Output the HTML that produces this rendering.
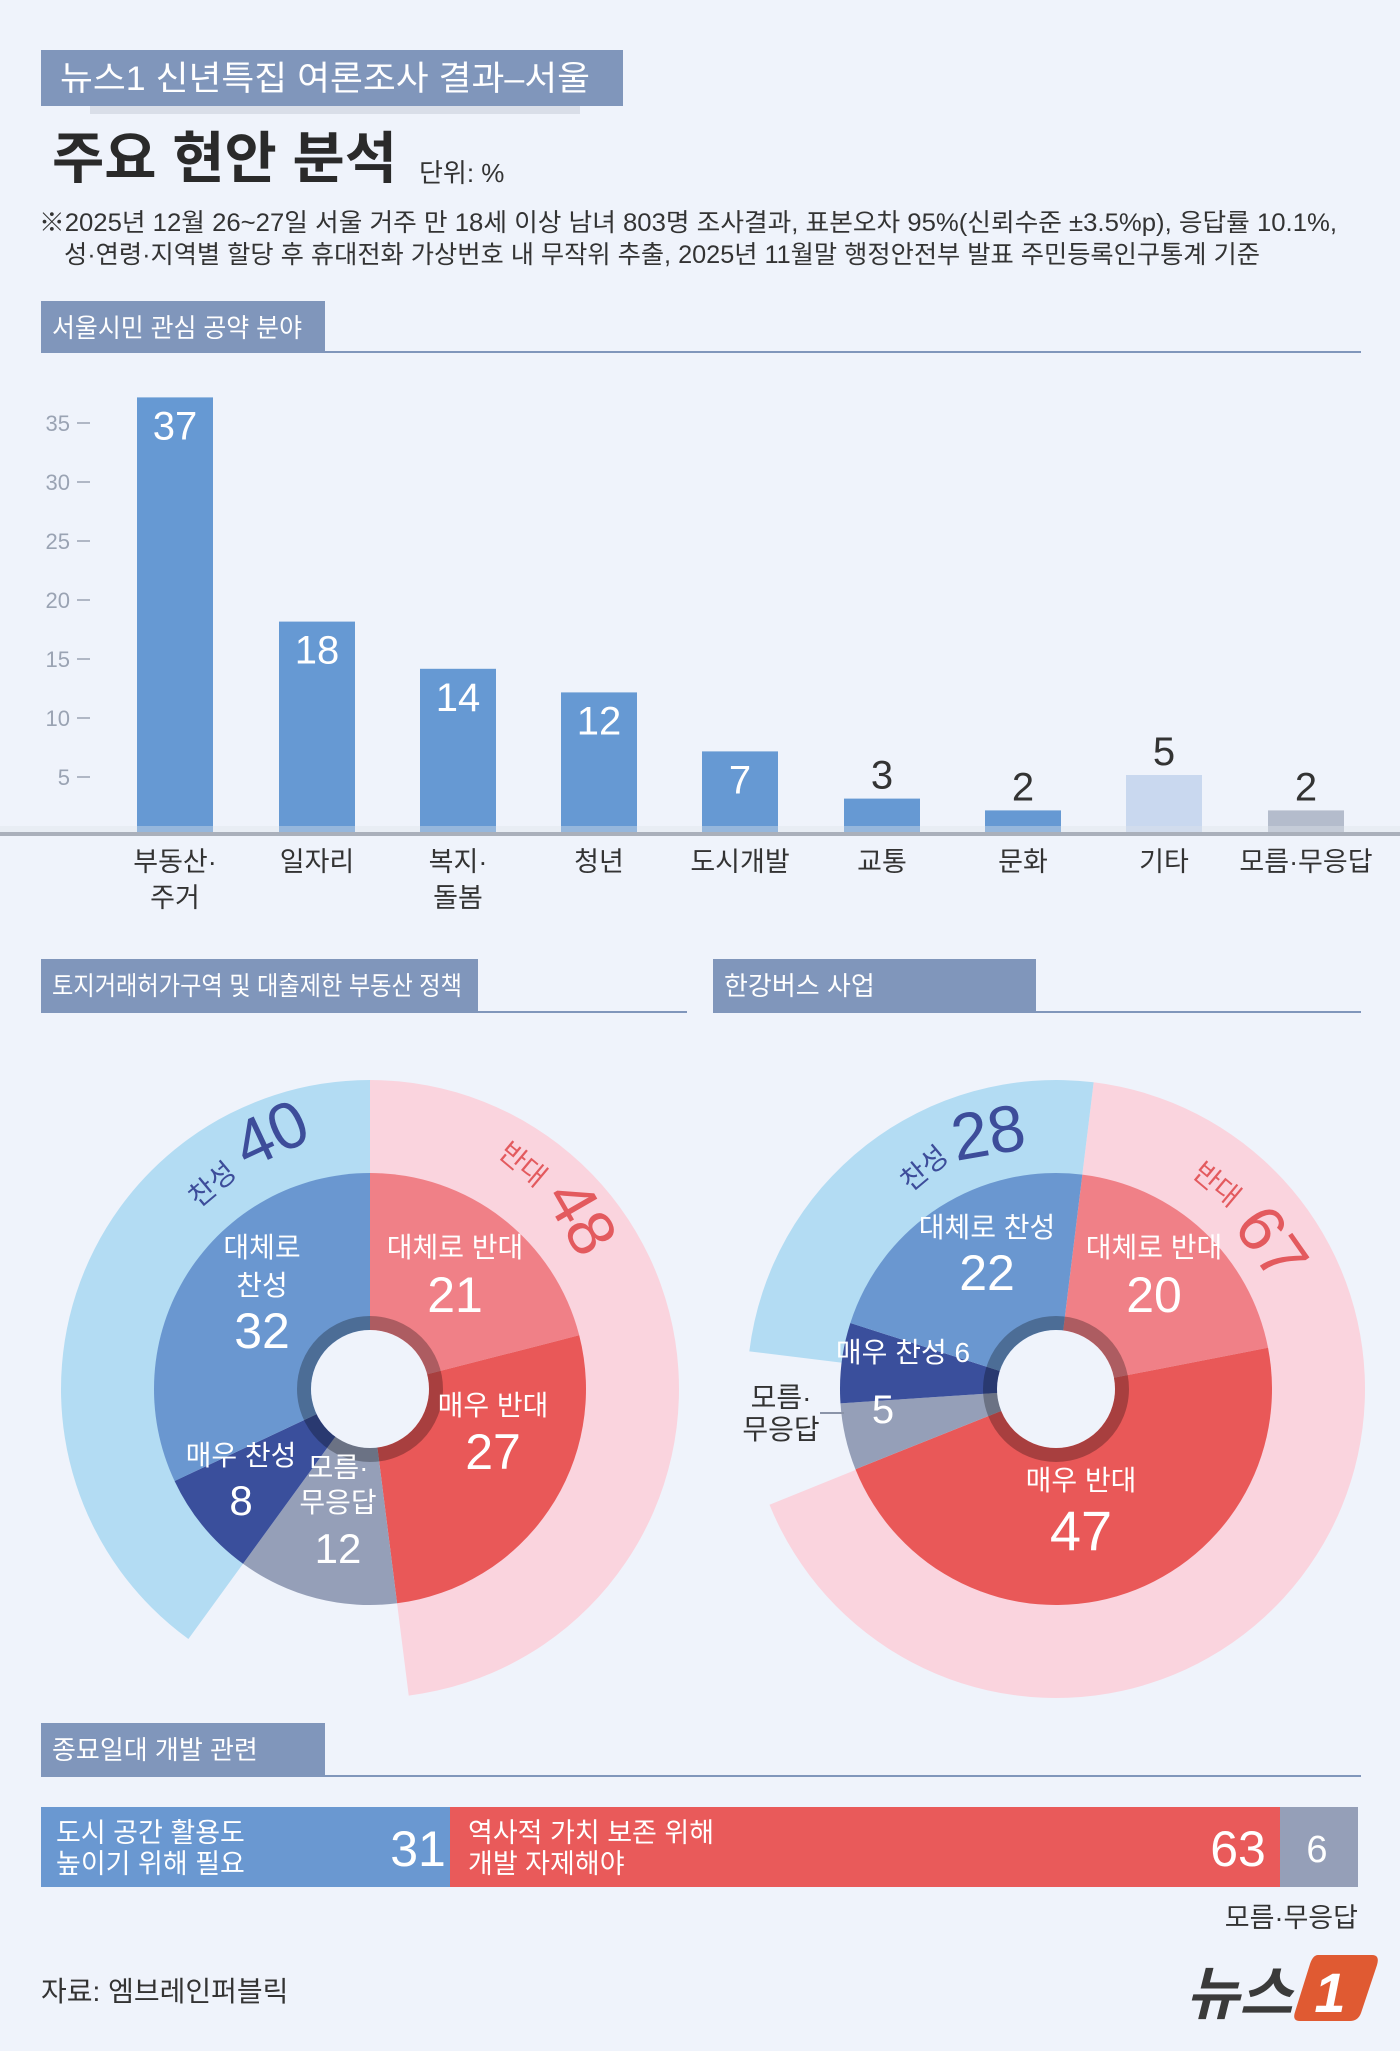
<!DOCTYPE html>
<html><head><meta charset="utf-8">
<style>
html,body{margin:0;padding:0;background:#eff3fb;}
svg{display:block;}
text{font-family:"Liberation Sans","Noto Sans CJK KR",sans-serif;}
</style></head>
<body>
<svg id="s" width="1400" height="2051" viewBox="0 0 1400 2051" xmlns="http://www.w3.org/2000/svg">
<rect width="1400" height="2051" fill="#eff3fb"/>
<rect x="41" y="50" width="582" height="56" fill="#8096bb"/>
<rect x="90" y="106" width="490" height="8" fill="#d9dee8"/>
<text x="60" y="90" font-size="34" fill="#fff" textLength="530" lengthAdjust="spacingAndGlyphs">뉴스1 신년특집 여론조사 결과–서울</text>
<text x="52" y="178" font-size="56" font-weight="bold" fill="#2a2a2a" textLength="345" lengthAdjust="spacingAndGlyphs">주요 현안 분석</text>
<text x="419" y="182" font-size="26" fill="#333">단위: %</text>
<text x="39" y="231" font-size="25" fill="#333" textLength="1298" lengthAdjust="spacingAndGlyphs">※2025년 12월 26~27일 서울 거주 만 18세 이상 남녀 803명 조사결과, 표본오차 95%(신뢰수준 ±3.5%p), 응답률 10.1%,</text>
<text x="64" y="263" font-size="25" fill="#333" textLength="1196" lengthAdjust="spacingAndGlyphs">성·연령·지역별 할당 후 휴대전화 가상번호 내 무작위 추출,  2025년 11월말 행정안전부 발표 주민등록인구통계 기준</text>

<rect x="41" y="301" width="284" height="52" fill="#8096bb"/>
<rect x="325" y="351" width="1036" height="2" fill="#8096bb"/>
<text x="52" y="337" font-size="26" fill="#fff" textLength="250" lengthAdjust="spacingAndGlyphs">서울시민 관심 공약 분야</text>
<g font-size="22" fill="#9aa3b3" text-anchor="end">
<text x="70" y="431">35</text><text x="70" y="490">30</text><text x="70" y="549">25</text><text x="70" y="608">20</text><text x="70" y="667">15</text><text x="70" y="726">10</text><text x="70" y="785">5</text>
</g>
<g stroke="#9aa3b3" stroke-width="1.5">
<line x1="77" y1="423" x2="90" y2="423"/><line x1="77" y1="482" x2="90" y2="482"/><line x1="77" y1="541" x2="90" y2="541"/><line x1="77" y1="600" x2="90" y2="600"/><line x1="77" y1="659" x2="90" y2="659"/><line x1="77" y1="718" x2="90" y2="718"/><line x1="77" y1="777" x2="90" y2="777"/>
</g>
<g id="bars"></g>
<rect x="0" y="832" width="1400" height="4" fill="#aab0bb"/>
<rect x="0" y="826" width="1400" height="6" fill="#dfe3ea" opacity="0.4"/>
<g font-size="27" fill="#333" text-anchor="middle">
<text x="175" y="871">부동산·</text><text x="175" y="907">주거</text>
<text x="317" y="871">일자리</text>
<text x="458" y="871">복지·</text><text x="458" y="907">돌봄</text>
<text x="599" y="871">청년</text>
<text x="740" y="871">도시개발</text>
<text x="882" y="871">교통</text>
<text x="1023" y="871">문화</text>
<text x="1164" y="871">기타</text>
<text x="1306" y="871">모름·무응답</text>
</g>

<rect x="41" y="959" width="437" height="54" fill="#8096bb"/>
<rect x="478" y="1011" width="209" height="2" fill="#8096bb"/>
<text x="52" y="995" font-size="26" fill="#fff" textLength="410" lengthAdjust="spacingAndGlyphs">토지거래허가구역 및 대출제한 부동산 정책</text>
<rect x="713" y="959" width="323" height="54" fill="#8096bb"/>
<rect x="1036" y="1011" width="325" height="2" fill="#8096bb"/>
<text x="724" y="995" font-size="26" fill="#fff">한강버스 사업</text>
<g id="donuts"></g>

<g>
<text x="212" y="1194" font-size="28" fill="#3d4d9a" text-anchor="middle" transform="rotate(-40 212 1184)">찬성</text>
<text x="272" y="1156" font-size="66" fill="#3d4d9a" text-anchor="middle" transform="rotate(-25 272 1136)">40</text>
<text x="523" y="1174" font-size="28" fill="#e35a5e" text-anchor="middle" transform="rotate(40 523 1164)">반대</text>
<text x="582" y="1240" font-size="66" fill="#e35a5e" text-anchor="middle" transform="rotate(60 582 1217)">48</text>
<g fill="#fff" text-anchor="middle">
<text x="262" y="1257" font-size="28">대체로</text><text x="262" y="1295" font-size="28">찬성</text>
<text x="262" y="1348" font-size="50">32</text>
<text x="455" y="1257" font-size="28">대체로 반대</text><text x="455" y="1312" font-size="50">21</text>
<text x="493" y="1415" font-size="28">매우 반대</text><text x="493" y="1469" font-size="50">27</text>
<text x="241" y="1465" font-size="28">매우 찬성</text><text x="241" y="1515" font-size="42">8</text>
<text x="338" y="1477" font-size="28">모름·</text><text x="338" y="1512" font-size="28">무응답</text><text x="338" y="1563" font-size="42">12</text>
</g>
<text x="924" y="1178" font-size="28" fill="#3d4d9a" text-anchor="middle" transform="rotate(-40 924 1168)">찬성</text>
<text x="988" y="1155" font-size="66" fill="#3d4d9a" text-anchor="middle" transform="rotate(-10 988 1132)">28</text>
<text x="1217" y="1194" font-size="28" fill="#e35a5e" text-anchor="middle" transform="rotate(40 1217 1184)">반대</text>
<text x="1272" y="1266" font-size="66" fill="#e35a5e" text-anchor="middle" transform="rotate(55 1272 1243)">67</text>
<g fill="#fff" text-anchor="middle">
<text x="987" y="1237" font-size="28">대체로 찬성</text><text x="987" y="1290" font-size="50">22</text>
<text x="1154" y="1257" font-size="28">대체로 반대</text><text x="1154" y="1312" font-size="50">20</text>
<text x="903" y="1362" font-size="28">매우 찬성 6</text>
<text x="883" y="1423" font-size="40">5</text>
<text x="1081" y="1490" font-size="28">매우 반대</text><text x="1081" y="1550" font-size="56">47</text>
</g>
<text x="781" y="1407" font-size="28" fill="#333" text-anchor="middle">모름·</text>
<text x="781" y="1439" font-size="28" fill="#333" text-anchor="middle">무응답</text>
<line x1="820" y1="1413" x2="844" y2="1413" stroke="#8a93a8" stroke-width="2"/>
</g>

<rect x="41" y="1723" width="284" height="54" fill="#8096bb"/>
<rect x="325" y="1775" width="1036" height="2" fill="#8096bb"/>
<text x="52" y="1759" font-size="26" fill="#fff">종묘일대 개발 관련</text>
<rect x="41" y="1807" width="409" height="80" fill="#6a98d1"/>
<rect x="450" y="1807" width="830" height="80" fill="#e95a5a"/>
<rect x="1280" y="1807" width="78" height="80" fill="#959fb8"/>
<g fill="#fff">
<text x="56" y="1842" font-size="27">도시 공간 활용도</text>
<text x="56" y="1873" font-size="27">높이기 위해 필요</text>
<text x="418" y="1866" font-size="50" text-anchor="middle">31</text>
<text x="468" y="1842" font-size="27">역사적 가치 보존 위해</text>
<text x="468" y="1873" font-size="27">개발 자제해야</text>
<text x="1238" y="1866" font-size="50" text-anchor="middle">63</text>
<text x="1317" y="1862" font-size="38" text-anchor="middle">6</text>
</g>
<text x="1358" y="1927" font-size="27" fill="#333" text-anchor="end">모름·무응답</text>
<text x="41" y="2001" font-size="28" fill="#333">자료: 엠브레인퍼블릭</text>
<text x="1186" y="2014" font-size="58" font-weight="bold" font-style="italic" fill="#3a3a3a">뉴스</text>
<path d="M1318 1955 L1372 1955 Q1380 1955 1377 1965 L1361 2013 Q1358 2021 1350 2021 L1300 2021 Q1292 2021 1295 2012 L1310 1964 Q1313 1955 1318 1955 Z" fill="#e05a32"/>
<text x="1330" y="2012" font-size="56" font-weight="bold" font-style="italic" fill="#fff" text-anchor="middle">1</text>
</svg>
<script>
var NS="http://www.w3.org/2000/svg";
function el(p,t,a){var e=document.createElementNS(NS,t);for(var k in a)e.setAttribute(k,a[k]);p.appendChild(e);return e;}
var bars=document.getElementById("bars");
var data=[[175,37,"#6699d3",1],[317,18,"#6699d3",1],[458,14,"#6699d3",1],[599,12,"#6699d3",1],[740,7,"#6699d3",1],[882,3,"#6699d3",0],[1023,2,"#6699d3",0],[1164,5,"#c9d8ef",0],[1306,2,"#b4bccc",0]];
data.forEach(function(d){var h=d[1]*11.8;el(bars,"rect",{x:d[0]-38,y:834-h,width:76,height:h,fill:d[2]});
var t=el(bars,"text",{x:d[0],y:d[3]?834-h+42:834-h-10,"font-size":40,"text-anchor":"middle",fill:d[3]?"#fff":"#333"});t.textContent=d[1];});
var g=document.getElementById("donuts");
function pt(cx,cy,r,a){var t=(a-90)*Math.PI/180;return [cx+r*Math.cos(t),cy+r*Math.sin(t)];}
function arc(cx,cy,r0,r1,a0,a1,fill){var l=(a1-a0)>180?1:0;var p1=pt(cx,cy,r1,a0),p2=pt(cx,cy,r1,a1),p3=pt(cx,cy,r0,a1),p4=pt(cx,cy,r0,a0);
el(g,"path",{d:"M"+p1+"A"+r1+","+r1+" 0 "+l+" 1 "+p2+"L"+p3+"A"+r0+","+r0+" 0 "+l+" 0 "+p4+"Z",fill:fill});}
function donut(cx,cy,start,segs,outer){
 outer.forEach(function(o){arc(cx,cy,200,309,o[0],o[1],o[2]);});
 var a=start;segs.forEach(function(s){var b=a+s[0]*3.6;arc(cx,cy,0,216,a,b,s[1]);a=b;});
 el(g,"circle",{cx:cx,cy:cy,r:66,fill:"none",stroke:"#000","stroke-opacity":0.28,"stroke-width":14});
 el(g,"circle",{cx:cx,cy:cy,r:59,fill:"#eff3fb"});
}
donut(370,1389,0,[[21,"#f08087"],[27,"#e95858"],[12,"#959fb8"],[8,"#3a4f9c"],[32,"#6a97d0"]],
 [[0,172.8,"#fad4de"],[216,360,"#b3dcf3"]]);
donut(1056,1389,7,[[20,"#f08087"],[47,"#e95858"],[5,"#959fb8"],[6,"#3a4f9c"],[22,"#6a97d0"]],
 [[7,248,"#fad4de"],[277,367,"#b3dcf3"]]);
</script>
</body></html>
